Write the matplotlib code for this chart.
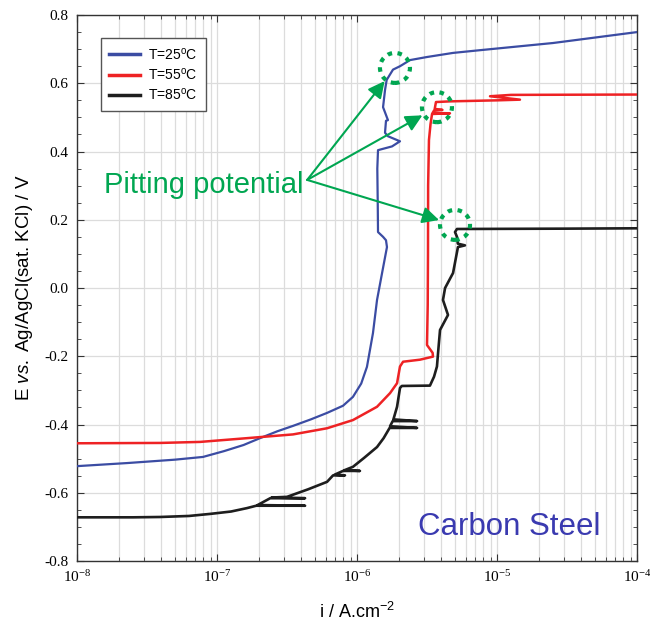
import numpy as np
import matplotlib
matplotlib.use('Agg')
import matplotlib.pyplot as plt
import matplotlib.transforms as mtransforms
from matplotlib.patches import Circle
from matplotlib.ticker import LogLocator, MultipleLocator, NullFormatter

plt.rcParams['font.family'] = ['Liberation Sans', 'DejaVu Sans']
plt.rcParams['mathtext.fontset'] = 'custom'
plt.rcParams['mathtext.rm'] = 'Liberation Serif'
plt.rcParams['mathtext.it'] = 'Liberation Sans:italic'
plt.rcParams['mathtext.sf'] = 'Liberation Sans'
plt.rcParams['axes.unicode_minus'] = False

# polarisation curves: log10(i / A.cm-2) and E / V
labels = ['T=25$^{\\mathdefault{o}}$C', 'T=55$^{\\mathdefault{o}}$C', 'T=85$^{\\mathdefault{o}}$C']
colors = ['#3b4ca3', '#ee2224', '#1e1e1e']

blue_logi = [-8.0, -7.643, -7.3, -7.1, -6.95, -6.81, -6.693, -6.57, -6.457, -6.33, -6.214,
             -6.1, -6.029, -5.97, -5.929, -5.886, -5.857, -5.821, -5.786, -5.793, -5.814,
             -5.85, -5.852, -5.855, -5.85, -5.75, -5.693, -5.78, -5.80, -5.793, -5.779,
             -5.814, -5.80, -5.788, -5.743, -5.693, -5.621, -5.50, -5.314, -5.121, -4.6, -4.0]
blue_E = [-0.522, -0.513, -0.503, -0.495, -0.478, -0.46, -0.44, -0.42, -0.404, -0.385, -0.366,
          -0.345, -0.319, -0.28, -0.231, -0.132, -0.035, 0.044, 0.12, 0.14, 0.15,
          0.164, 0.25, 0.35, 0.404, 0.415, 0.43, 0.445, 0.455, 0.49, 0.492,
          0.53, 0.58, 0.61, 0.64, 0.65, 0.668, 0.677, 0.689, 0.697, 0.718, 0.75]

red_logi = [-8.0, -7.407, -7.121, -6.786, -6.457, -6.214, -6.029, -5.857, -5.764, -5.714,
            -5.693, -5.671, -5.55, -5.457, -5.46, -5.50, -5.495, -5.493, -5.492, -5.486,
            -5.475, -5.464, -5.336, -5.46, -5.45, -5.39, -5.445, -5.436, -5.336, -5.0,
            -4.836, -5.05, -4.9, -4.0]
red_E = [-0.455, -0.454, -0.451, -0.44, -0.429, -0.411, -0.387, -0.348, -0.308, -0.279,
         -0.23, -0.216, -0.21, -0.201, -0.19, -0.167, -0.05, 0.1, 0.3, 0.434,
         0.48, 0.51, 0.512, 0.513, 0.52, 0.522, 0.525, 0.545, 0.547, 0.550,
         0.552, 0.562, 0.566, 0.567]

black_logi = [-8.0, -7.6, -7.407, -7.2, -7.05, -6.9, -6.786, -6.72, -6.371, -6.71,
              -6.62, -6.371, -6.61, -6.5, -6.35, -6.214, -6.171, -6.086, -6.16, -6.1,
              -5.979, -6.09, -6.029, -5.95, -5.857, -5.81, -5.767, -5.571, -5.764,
              -5.745, -5.571, -5.74, -5.714, -5.693, -5.68, -5.479, -5.45, -5.429,
              -5.421, -5.407, -5.35, -5.386, -5.371, -5.314, -5.279, -5.229, -5.28,
              -5.286, -5.30, -5.286, -4.5, -4.0]
black_E = [-0.672, -0.672, -0.671, -0.668, -0.662, -0.655, -0.645, -0.638, -0.638, -0.636,
           -0.616, -0.616, -0.614, -0.612, -0.59, -0.568, -0.549, -0.549, -0.547, -0.536,
           -0.536, -0.534, -0.524, -0.498, -0.466, -0.44, -0.41, -0.41, -0.405,
           -0.39, -0.39, -0.385, -0.348, -0.293, -0.287, -0.286, -0.26, -0.23,
           -0.19, -0.123, -0.079, -0.035, 0.0, 0.044, 0.12, 0.125, 0.13,
           0.15, 0.164, 0.173, 0.174, 0.175]

# pitting potentials marked by the dotted circles
pit_logi = [-5.729, -5.429, -5.30]
pit_E = [0.645, 0.530, 0.185]

green = '#00a651'

fig = plt.figure(figsize=(6.5, 6.29), dpi=100)
ax = fig.add_axes([0.1185, 0.1081, 0.8615, 0.8680])

curves = [(blue_logi, blue_E), (red_logi, red_E), (black_logi, black_E)]
widths = [1.6, 1.8, 1.9]
for (lg, E), c, lab, w in zip(curves, colors, labels, widths):
    ax.plot(10 ** np.array(lg), E, color=c, lw=w, label=lab, zorder=3)

ax.set_xscale('log')
ax.set_xlim(1e-8, 1e-4)
ax.set_ylim(-0.8, 0.8)
ax.xaxis.set_major_locator(LogLocator(base=10, numticks=10))
ax.xaxis.set_minor_locator(LogLocator(base=10, subs=np.arange(2, 10), numticks=10))
ax.xaxis.set_minor_formatter(NullFormatter())
ax.yaxis.set_major_locator(MultipleLocator(0.2))
ax.yaxis.set_minor_locator(MultipleLocator(0.05))
ax.yaxis.set_major_formatter(plt.FuncFormatter(lambda v, p: '%.1f' % v))

ax.grid(True, which='major', axis='both', color='#dcdcdc', lw=0.9, zorder=0)
ax.grid(True, which='minor', axis='x', color='#dcdcdc', lw=0.9, zorder=0)
ax.tick_params(which='both', direction='in', top=True, right=True, color='#333333')
ax.tick_params(which='major', length=5, width=0.8, labelsize=11, pad=6)
ax.tick_params(which='minor', length=3, width=0.6)
for s in ax.spines.values():
    s.set_color('#333333')
    s.set_linewidth(1.0)
for t in ax.get_xticklabels() + ax.get_yticklabels():
    t.set_fontfamily('Liberation Serif')

ax.set_xlabel('i / A.cm$^{\\mathdefault{-2}}$', fontsize=13, labelpad=12)
ax.set_ylabel('E $\\mathit{vs.}$ Ag/AgCl(sat. KCl) / V', fontsize=13.5, labelpad=7)

leg = ax.legend(loc='upper left', bbox_to_anchor=(0.043, 0.958), fontsize=10,
                handlelength=2.2, handletextpad=0.6, borderpad=0.6, labelspacing=0.3,
                fancybox=False, framealpha=1, edgecolor='#555555', borderaxespad=0)
leg.get_frame().set_linewidth(1.0)
for h in leg.get_lines():
    h.set_linewidth(2.5)

# dotted circles (radius in inches) and arrows to the pitting potentials
for lg, E in zip(pit_logi, pit_E):
    trans = fig.dpi_scale_trans + mtransforms.ScaledTranslation(10 ** lg, E, ax.transData)
    ax.add_patch(Circle((0, 0), radius=0.15, transform=trans, fill=False,
                        edgecolor=green, lw=3, linestyle=(0, (1.1, 1.3)), zorder=4))
    ax.annotate('', xy=(10 ** lg, E), xycoords='data', xytext=(0.411, 0.698),
                textcoords='axes fraction',
                arrowprops=dict(arrowstyle='-|>', color=green, lw=1.5,
                                mutation_scale=25, shrinkA=0, shrinkB=12), zorder=5)

ax.text(0.048, 0.674, 'Pitting potential', transform=ax.transAxes, color=green,
        fontsize=21, va='baseline', ha='left')
ax.text(0.609, 0.0476, 'Carbon Steel', transform=ax.transAxes, color='#3a3ab0',
        fontsize=22.5, va='baseline', ha='left')

fig.savefig('out.png', dpi=100)
